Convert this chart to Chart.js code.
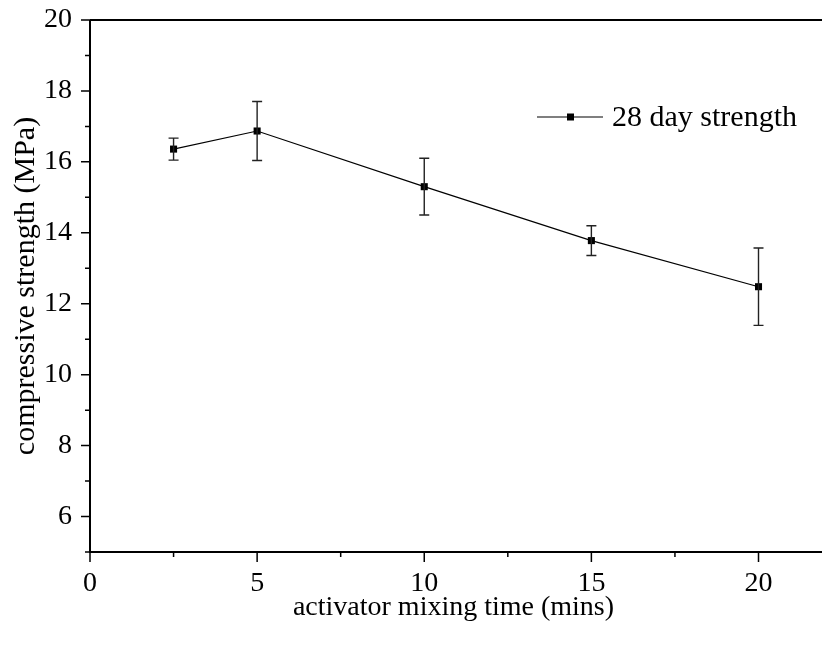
<!DOCTYPE html>
<html>
<head>
<meta charset="utf-8">
<script src="https://cdn.jsdelivr.net/npm/chart.js@4"></script>
<style>
  body { margin: 0; background: #fff; }
  canvas { display: block; }
</style>
</head>
<body>
<canvas id="strength" width="822" height="653"></canvas>
<script>
const mixTime = [2.5, 5, 10, 15, 20];
const strength = [16.36, 16.87, 15.30, 13.78, 12.48];
const errors = [0.31, 0.83, 0.80, 0.42, 1.09];
const seriesName = '28 day strength';
const serif = "'Liberation Serif', 'Times New Roman', serif";

// axes box, tick marks, error bars and the inline legend
const frame = {
  id: 'frame',
  afterDatasetsDraw(chart) {
    const { ctx, chartArea: a } = chart;
    const x = chart.scales.x, y = chart.scales.y;
    ctx.save();

    // error bars
    ctx.lineWidth = 1.4;
    ctx.strokeStyle = '#222';
    mixTime.forEach((t, i) => {
      const px = x.getPixelForValue(t);
      const top = y.getPixelForValue(strength[i] + errors[i]);
      const bot = y.getPixelForValue(strength[i] - errors[i]);
      ctx.beginPath();
      ctx.moveTo(px, top); ctx.lineTo(px, bot);
      ctx.moveTo(px - 5, top); ctx.lineTo(px + 5, top);
      ctx.moveTo(px - 5, bot); ctx.lineTo(px + 5, bot);
      ctx.stroke();
    });

    // axis lines
    ctx.strokeStyle = '#000';
    ctx.lineWidth = 2;
    ctx.beginPath();
    ctx.moveTo(a.left, a.top); ctx.lineTo(chart.width, a.top);
    ctx.moveTo(a.left, a.top); ctx.lineTo(a.left, a.bottom);
    ctx.moveTo(a.left - 1, a.bottom); ctx.lineTo(chart.width, a.bottom);
    ctx.stroke();

    // tick marks
    ctx.lineWidth = 1.5;
    ctx.beginPath();
    x.ticks.forEach(t => {
      const px = x.getPixelForValue(t.value);
      const len = t.value % 5 === 0 ? 10 : 5;
      ctx.moveTo(px, a.bottom); ctx.lineTo(px, a.bottom + len);
    });
    y.ticks.forEach(t => {
      const py = y.getPixelForValue(t.value);
      const len = t.value % 2 === 0 ? 9 : 5;
      ctx.moveTo(a.left, py); ctx.lineTo(a.left - len, py);
    });
    ctx.stroke();

    // legend
    const ly = 117;
    ctx.lineWidth = 1.2;
    ctx.beginPath();
    ctx.moveTo(537, ly); ctx.lineTo(603, ly);
    ctx.stroke();
    ctx.fillStyle = '#000';
    ctx.fillRect(567, ly - 3.5, 7, 7);
    ctx.font = '30px ' + serif;
    ctx.textBaseline = 'middle';
    ctx.textAlign = 'left';
    ctx.fillText(seriesName, 612, ly + 1);
    ctx.restore();
  }
};

new Chart(document.getElementById('strength'), {
  type: 'line',
  data: {
    datasets: [{
      label: seriesName,
      data: mixTime.map((t, i) => ({ x: t, y: strength[i] })),
      borderColor: '#000',
      borderWidth: 1.2,
      backgroundColor: '#000',
      pointStyle: 'rect',
      pointRadius: 5,
      pointBorderWidth: 0,
      tension: 0
    }]
  },
  options: {
    responsive: false,
    animation: false,
    layout: { padding: { top: 20, right: 0, left: 0, bottom: 0 } },
    plugins: { legend: { display: false }, tooltip: { enabled: false } },
    scales: {
      x: {
        type: 'linear',
        min: 0,
        max: 21.75,
        grid: { display: false, drawTicks: false },
        border: { display: false },
        ticks: {
          stepSize: 2.5,
          includeBounds: false,
          autoSkip: false,
          maxRotation: 0,
          padding: 15,
          color: '#000',
          font: { family: serif, size: 28 },
          callback: v => (v % 5 === 0 ? v : '')
        },
        title: {
          display: true,
          text: 'activator mixing time (mins)',
          color: '#000',
          font: { family: serif, size: 28 },
          padding: { top: 0, bottom: 29 }
        },
        afterFit: s => { s.height = 101; s.paddingLeft = 0; s.paddingRight = 0; }
      },
      y: {
        min: 5,
        max: 20,
        grid: { display: false, drawTicks: false },
        border: { display: false },
        ticks: {
          stepSize: 1,
          autoSkip: false,
          padding: 18,
          color: '#000',
          font: { family: serif, size: 28 },
          callback: v => (v % 2 === 0 ? v : '')
        },
        title: {
          display: true,
          text: 'compressive strength (MPa)',
          color: '#000',
          font: { family: serif, size: 30 },
          padding: { top: 8, bottom: 0 }
        },
        afterFit: s => { s.width = 90; s.paddingTop = 0; s.paddingBottom = 0; }
      }
    }
  },
  plugins: [frame]
});
</script>
</body>
</html>
